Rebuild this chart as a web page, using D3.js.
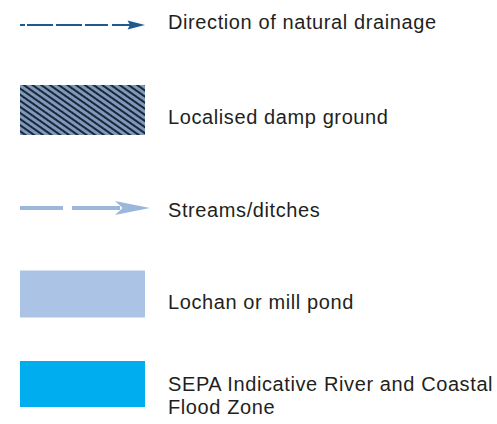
<!DOCTYPE html>
<html>
<head>
<meta charset="utf-8">
<script src="https://cdn.jsdelivr.net/npm/d3@7"></script>
<style>
  body { margin: 0; background: #fff; }
  svg { display: block; }
</style>
</head>
<body>
<svg width="497" height="424"></svg>
<script>
// legend entries
var labels = [
  ["Direction of natural drainage"],
  ["Localised damp ground"],
  ["Streams/ditches"],
  ["Lochan or mill pond"],
  ["SEPA Indicative River and Coastal", "Flood Zone"]
];
var kinds = ["drainage", "damp", "stream", "pond", "flood"];
var colors = ["#1d5a90", "#7e99bc", "#9cb7de", "#abc4e6", "#00aeef"];

var svg = d3.select("svg");

// rows are not evenly spaced in the original, so piecewise scales
var rowY = d3.scaleLinear().domain([0, 1, 2, 3, 4]).range([25, 110, 208, 294, 384]);
var textY = d3.scaleLinear().domain([0, 1, 2, 3, 4]).range([29, 124, 217, 309, 391]);
var symX = d3.scaleLinear().domain([0, 1]).range([20, 145]);

// hatch for damp ground
var defs = svg.append("defs");
var pat = defs.append("pattern")
    .attr("id", "hatch")
    .attr("patternUnits", "userSpaceOnUse")
    .attr("width", 5).attr("height", 5)
    .attr("patternTransform", "rotate(35)");
pat.append("rect").attr("width", 5).attr("height", 5).attr("fill", colors[1]);
pat.append("rect").attr("width", 5).attr("height", 2).attr("fill", "#1b2637");

var rows = svg.selectAll("g.row")
    .data(kinds)
  .enter().append("g")
    .attr("class", "row");

rows.each(function(k, i){
  var g = d3.select(this);
  var y = rowY(i);
  if (k == "drainage") {
    g.append("line")
      .attr("x1", symX(0)).attr("x2", symX(0.88))
      .attr("y1", y).attr("y2", y)
      .attr("stroke", colors[i]).attr("stroke-width", 2.2)
      .attr("stroke-dasharray", "5,2,26,3,26,3,23,4,30");
    g.append("path")
      .attr("d", d3.line()([[symX(0.86), y - 4.5], [symX(1), y], [symX(0.86), y + 4.5], [symX(0.88), y]]))
      .attr("fill", colors[i]);
  } else if (k == "stream") {
    g.append("line")
      .attr("x1", symX(0)).attr("x2", symX(0.344))
      .attr("y1", y).attr("y2", y)
      .attr("stroke", colors[i]).attr("stroke-width", 4);
    g.append("line")
      .attr("x1", symX(0.416)).attr("x2", symX(0.8))
      .attr("y1", y).attr("y2", y)
      .attr("stroke", colors[i]).attr("stroke-width", 4);
    g.append("path")
      .attr("d", d3.line()([[symX(0.76), y - 7], [symX(1.04), y], [symX(0.76), y + 7], [symX(0.82), y]]))
      .attr("fill", colors[i]);
  } else {
    var h = k == "flood" ? 46 : (k == "pond" ? 47 : 50);
    g.append("rect")
      .attr("x", symX(0)).attr("y", y - h / 2)
      .attr("width", symX(1) - symX(0)).attr("height", h)
      .attr("fill", k == "damp" ? "url(#hatch)" : colors[i]);
  }
});

rows.append("text")
    .attr("x", 168)
    .attr("y", function(d, i){ return textY(i); })
    .attr("font-family", "Liberation Sans, Arial, sans-serif")
    .attr("font-size", "20px")
    .attr("letter-spacing", "0.6px")
    .attr("fill", "#231f20")
  .selectAll("tspan")
    .data(function(d, i){ return labels[i]; })
  .enter().append("tspan")
    .attr("x", 168)
    .attr("dy", function(d, j){ return j == 0 ? 0 : 23; })
    .text(function(d){ return d; });
</script>
</body>
</html>
